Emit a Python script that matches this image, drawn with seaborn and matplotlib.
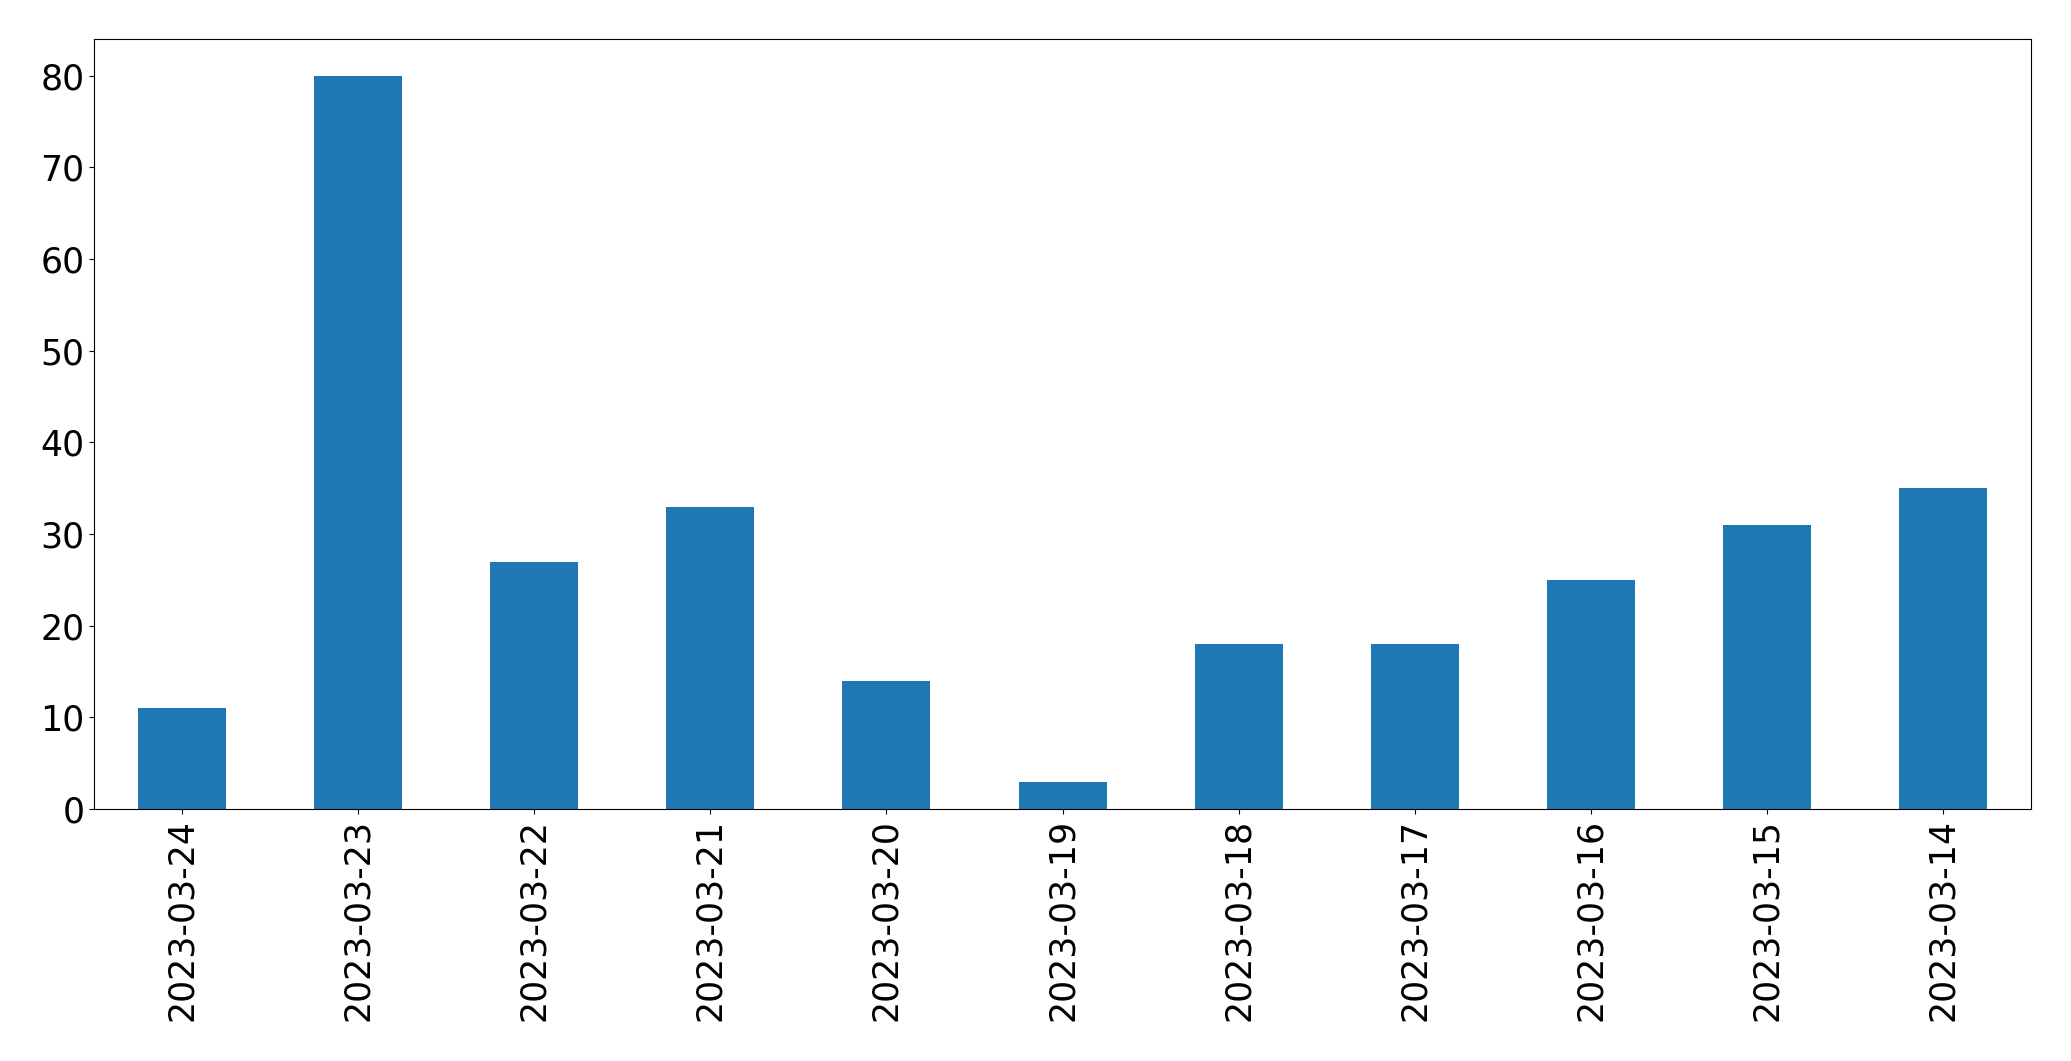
import pandas as pd
import matplotlib
matplotlib.use('Agg')
import matplotlib.pyplot as plt
import seaborn as sns

# Daily counts, newest first
dates = ['2023-03-24', '2023-03-23', '2023-03-22', '2023-03-21', '2023-03-20', '2023-03-19',
         '2023-03-18', '2023-03-17', '2023-03-16', '2023-03-15', '2023-03-14']
counts = [11, 80, 27, 33, 14, 3, 18, 18, 25, 31, 35]

df = pd.DataFrame({'date': dates, 'count': counts})

fig = plt.figure(figsize=(20.71, 10.61), dpi=100)
ax = fig.add_axes([0.0454, 0.2375, 0.9353, 0.7257])

sns.barplot(data=df, x='date', y='count', order=dates, color='#1f77b4',
            saturation=1, width=0.5, ax=ax)

ax.set_xlim(-0.5, len(dates) - 0.5)
ax.set_ylim(0, 84)
ax.set_xlabel('')
ax.set_ylabel('')
ax.tick_params(axis='both', labelsize=25)
ax.tick_params(axis='x', labelrotation=90)

fig.savefig('out.png', dpi=100)
